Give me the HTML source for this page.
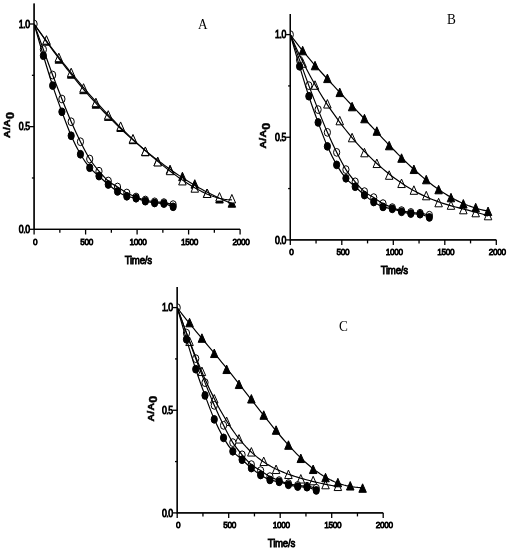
<!DOCTYPE html>
<html><head><meta charset="utf-8"><title>Figure</title>
<style>
html,body{margin:0;padding:0;background:#fff;}
svg{display:block;font-family:"Liberation Sans",sans-serif;}
</style></head><body>
<svg width="510" height="550" viewBox="0 0 510 550">
<rect width="510" height="550" fill="#fff"/>
<path d="M34.10,3.50 V229.30 H240.10" fill="none" stroke="#000" stroke-width="1.2"/>
<path d="M34.10,229.30 v5.20" stroke="#000" stroke-width="1.3"/>
<text transform="translate(35.10,244.60) scale(0.850,1)" text-anchor="middle" font-size="9.70" font-weight="normal" letter-spacing="-0.40" stroke="#000" stroke-width="0.85">0</text>
<path d="M59.85,229.30 v3.50" stroke="#000" stroke-width="1.3"/>
<path d="M85.60,229.30 v5.20" stroke="#000" stroke-width="1.3"/>
<text transform="translate(86.60,244.60) scale(0.850,1)" text-anchor="middle" font-size="9.70" font-weight="normal" letter-spacing="-0.40" stroke="#000" stroke-width="0.85">500</text>
<path d="M111.35,229.30 v3.50" stroke="#000" stroke-width="1.3"/>
<path d="M137.10,229.30 v5.20" stroke="#000" stroke-width="1.3"/>
<text transform="translate(138.10,244.60) scale(0.850,1)" text-anchor="middle" font-size="9.70" font-weight="normal" letter-spacing="-0.40" stroke="#000" stroke-width="0.85">1000</text>
<path d="M162.85,229.30 v3.50" stroke="#000" stroke-width="1.3"/>
<path d="M188.60,229.30 v5.20" stroke="#000" stroke-width="1.3"/>
<text transform="translate(189.60,244.60) scale(0.850,1)" text-anchor="middle" font-size="9.70" font-weight="normal" letter-spacing="-0.40" stroke="#000" stroke-width="0.85">1500</text>
<path d="M214.35,229.30 v3.50" stroke="#000" stroke-width="1.3"/>
<path d="M240.10,229.30 v5.20" stroke="#000" stroke-width="1.3"/>
<text transform="translate(241.10,244.60) scale(0.850,1)" text-anchor="middle" font-size="9.70" font-weight="normal" letter-spacing="-0.40" stroke="#000" stroke-width="0.85">2000</text>
<path d="M34.10,229.30 h-4.20" stroke="#000" stroke-width="1.3"/>
<text transform="translate(29.60,232.90) scale(0.870,1)" text-anchor="end" font-size="10.00" font-weight="normal" letter-spacing="-0.50" stroke="#000" stroke-width="0.85">0.0</text>
<path d="M34.10,177.98 h-2.20" stroke="#000" stroke-width="1.3"/>
<path d="M34.10,126.65 h-4.20" stroke="#000" stroke-width="1.3"/>
<text transform="translate(29.60,130.25) scale(0.870,1)" text-anchor="end" font-size="10.00" font-weight="normal" letter-spacing="-0.50" stroke="#000" stroke-width="0.85">0.5</text>
<path d="M34.10,75.32 h-2.20" stroke="#000" stroke-width="1.3"/>
<path d="M34.10,24.00 h-4.20" stroke="#000" stroke-width="1.3"/>
<text transform="translate(29.60,27.60) scale(0.870,1)" text-anchor="end" font-size="10.00" font-weight="normal" letter-spacing="-0.50" stroke="#000" stroke-width="0.85">1.0</text>
<text transform="translate(138.20,263.75) scale(0.850,1)" text-anchor="middle" font-size="11.40" font-weight="normal" letter-spacing="-0.30" stroke="#000" stroke-width="0.85">Time/s</text>
<text transform="translate(10.30,138.00) rotate(-90) scale(1,0.84)" font-size="10.5" font-weight="bold" letter-spacing="0.3" stroke="#000" stroke-width="0.55">A/A<tspan dy="4.2" font-size="12.5">0</tspan></text>
<clipPath id="clipA"><rect x="34.10" y="-1.50" width="230" height="230.80"/></clipPath>
<g clip-path="url(#clipA)">
<path d="M46.46,36.70 L50.21,45.20 L42.71,45.20 Z" fill="#000" stroke="#000" stroke-width="1"/>
<path d="M58.82,54.70 L62.57,63.20 L55.07,63.20 Z" fill="#000" stroke="#000" stroke-width="1"/>
<path d="M71.18,69.70 L74.93,78.20 L67.43,78.20 Z" fill="#000" stroke="#000" stroke-width="1"/>
<path d="M83.54,85.20 L87.29,93.70 L79.79,93.70 Z" fill="#000" stroke="#000" stroke-width="1"/>
<path d="M95.90,99.70 L99.65,108.20 L92.15,108.20 Z" fill="#000" stroke="#000" stroke-width="1"/>
<path d="M108.26,111.90 L112.01,120.40 L104.51,120.40 Z" fill="#000" stroke="#000" stroke-width="1"/>
<path d="M120.62,123.00 L124.37,131.50 L116.87,131.50 Z" fill="#000" stroke="#000" stroke-width="1"/>
<path d="M132.98,135.20 L136.73,143.70 L129.23,143.70 Z" fill="#000" stroke="#000" stroke-width="1"/>
<path d="M145.34,147.30 L149.09,155.80 L141.59,155.80 Z" fill="#000" stroke="#000" stroke-width="1"/>
<path d="M157.70,157.20 L161.45,165.70 L153.95,165.70 Z" fill="#000" stroke="#000" stroke-width="1"/>
<path d="M170.06,165.20 L173.81,173.70 L166.31,173.70 Z" fill="#000" stroke="#000" stroke-width="1"/>
<path d="M182.42,172.20 L186.17,180.70 L178.67,180.70 Z" fill="#000" stroke="#000" stroke-width="1"/>
<path d="M194.78,179.70 L198.53,188.20 L191.03,188.20 Z" fill="#000" stroke="#000" stroke-width="1"/>
<path d="M207.14,189.00 L210.89,197.50 L203.39,197.50 Z" fill="#000" stroke="#000" stroke-width="1"/>
<path d="M219.50,194.50 L223.25,203.00 L215.75,203.00 Z" fill="#000" stroke="#000" stroke-width="1"/>
<path d="M231.86,198.70 L235.61,207.20 L228.11,207.20 Z" fill="#000" stroke="#000" stroke-width="1"/>
<path d="M46.46,35.70 L50.21,44.20 L42.71,44.20 Z" fill="#fff" stroke="#000" stroke-width="1"/>
<path d="M58.82,53.20 L62.57,61.70 L55.07,61.70 Z" fill="#fff" stroke="#000" stroke-width="1"/>
<path d="M71.18,68.20 L74.93,76.70 L67.43,76.70 Z" fill="#fff" stroke="#000" stroke-width="1"/>
<path d="M83.54,83.70 L87.29,92.20 L79.79,92.20 Z" fill="#fff" stroke="#000" stroke-width="1"/>
<path d="M95.90,98.20 L99.65,106.70 L92.15,106.70 Z" fill="#fff" stroke="#000" stroke-width="1"/>
<path d="M108.26,110.70 L112.01,119.20 L104.51,119.20 Z" fill="#fff" stroke="#000" stroke-width="1"/>
<path d="M120.62,121.95 L124.37,130.45 L116.87,130.45 Z" fill="#fff" stroke="#000" stroke-width="1"/>
<path d="M132.98,134.45 L136.73,142.95 L129.23,142.95 Z" fill="#fff" stroke="#000" stroke-width="1"/>
<path d="M145.34,146.95 L149.09,155.45 L141.59,155.45 Z" fill="#fff" stroke="#000" stroke-width="1"/>
<path d="M157.70,157.45 L161.45,165.95 L153.95,165.95 Z" fill="#fff" stroke="#000" stroke-width="1"/>
<path d="M170.06,166.20 L173.81,174.70 L166.31,174.70 Z" fill="#fff" stroke="#000" stroke-width="1"/>
<path d="M182.42,176.45 L186.17,184.95 L178.67,184.95 Z" fill="#fff" stroke="#000" stroke-width="1"/>
<path d="M194.78,183.70 L198.53,192.20 L191.03,192.20 Z" fill="#fff" stroke="#000" stroke-width="1"/>
<path d="M207.14,189.00 L210.89,197.50 L203.39,197.50 Z" fill="#fff" stroke="#000" stroke-width="1"/>
<path d="M219.50,192.60 L223.25,201.10 L215.75,201.10 Z" fill="#fff" stroke="#000" stroke-width="1"/>
<path d="M231.86,194.45 L235.61,202.95 L228.11,202.95 Z" fill="#fff" stroke="#000" stroke-width="1"/>
<ellipse cx="34.10" cy="24.00" rx="3.1" ry="3.9" fill="#fff" stroke="#000" stroke-width="1"/>
<ellipse cx="43.37" cy="49.50" rx="3.1" ry="3.9" fill="#fff" stroke="#000" stroke-width="1"/>
<ellipse cx="52.64" cy="75.00" rx="3.1" ry="3.9" fill="#fff" stroke="#000" stroke-width="1"/>
<ellipse cx="61.91" cy="99.00" rx="3.1" ry="3.9" fill="#fff" stroke="#000" stroke-width="1"/>
<ellipse cx="71.18" cy="121.75" rx="3.1" ry="3.9" fill="#fff" stroke="#000" stroke-width="1"/>
<ellipse cx="80.45" cy="141.75" rx="3.1" ry="3.9" fill="#fff" stroke="#000" stroke-width="1"/>
<ellipse cx="89.72" cy="159.00" rx="3.1" ry="3.9" fill="#fff" stroke="#000" stroke-width="1"/>
<ellipse cx="98.99" cy="171.20" rx="3.1" ry="3.9" fill="#fff" stroke="#000" stroke-width="1"/>
<ellipse cx="108.26" cy="181.00" rx="3.1" ry="3.9" fill="#fff" stroke="#000" stroke-width="1"/>
<ellipse cx="117.53" cy="187.00" rx="3.1" ry="3.9" fill="#fff" stroke="#000" stroke-width="1"/>
<ellipse cx="126.80" cy="193.00" rx="3.1" ry="3.9" fill="#fff" stroke="#000" stroke-width="1"/>
<ellipse cx="136.07" cy="197.00" rx="3.1" ry="3.9" fill="#fff" stroke="#000" stroke-width="1"/>
<ellipse cx="145.34" cy="200.00" rx="3.1" ry="3.9" fill="#fff" stroke="#000" stroke-width="1"/>
<ellipse cx="154.61" cy="201.80" rx="3.1" ry="3.9" fill="#fff" stroke="#000" stroke-width="1"/>
<ellipse cx="163.88" cy="202.60" rx="3.1" ry="3.9" fill="#fff" stroke="#000" stroke-width="1"/>
<ellipse cx="173.15" cy="204.60" rx="3.1" ry="3.9" fill="#fff" stroke="#000" stroke-width="1"/>
<ellipse cx="43.37" cy="55.70" rx="3.1" ry="3.9" fill="#000" stroke="#000" stroke-width="1"/>
<ellipse cx="52.64" cy="85.60" rx="3.1" ry="3.9" fill="#000" stroke="#000" stroke-width="1"/>
<ellipse cx="61.91" cy="111.80" rx="3.1" ry="3.9" fill="#000" stroke="#000" stroke-width="1"/>
<ellipse cx="71.18" cy="135.75" rx="3.1" ry="3.9" fill="#000" stroke="#000" stroke-width="1"/>
<ellipse cx="80.45" cy="154.25" rx="3.1" ry="3.9" fill="#000" stroke="#000" stroke-width="1"/>
<ellipse cx="89.72" cy="167.70" rx="3.1" ry="3.9" fill="#000" stroke="#000" stroke-width="1"/>
<ellipse cx="98.99" cy="176.10" rx="3.1" ry="3.9" fill="#000" stroke="#000" stroke-width="1"/>
<ellipse cx="108.26" cy="184.50" rx="3.1" ry="3.9" fill="#000" stroke="#000" stroke-width="1"/>
<ellipse cx="117.53" cy="191.40" rx="3.1" ry="3.9" fill="#000" stroke="#000" stroke-width="1"/>
<ellipse cx="126.80" cy="196.30" rx="3.1" ry="3.9" fill="#000" stroke="#000" stroke-width="1"/>
<ellipse cx="136.07" cy="198.25" rx="3.1" ry="3.9" fill="#000" stroke="#000" stroke-width="1"/>
<ellipse cx="145.34" cy="201.20" rx="3.1" ry="3.9" fill="#000" stroke="#000" stroke-width="1"/>
<ellipse cx="154.61" cy="203.00" rx="3.1" ry="3.9" fill="#000" stroke="#000" stroke-width="1"/>
<ellipse cx="163.88" cy="203.60" rx="3.1" ry="3.9" fill="#000" stroke="#000" stroke-width="1"/>
<ellipse cx="173.15" cy="206.80" rx="3.1" ry="3.9" fill="#000" stroke="#000" stroke-width="1"/>
<path d="M34.10,24.00 L36.60,27.62 L39.11,31.21 L41.61,34.78 L44.11,38.31 L46.62,41.81 L49.12,45.28 L51.62,48.72 L54.13,52.12 L56.63,55.48 L59.13,58.81 L61.64,62.11 L64.14,65.36 L66.64,68.58 L69.15,71.76 L71.65,74.90 L74.15,78.01 L76.66,81.07 L79.16,84.10 L81.66,87.09 L84.17,90.03 L86.67,92.94 L89.17,95.81 L91.68,98.65 L94.18,101.44 L96.68,104.19 L99.19,106.91 L101.69,109.59 L104.19,112.23 L106.70,114.83 L109.20,117.39 L111.70,119.92 L114.21,122.41 L116.71,124.87 L119.21,127.28 L121.72,129.67 L124.22,132.02 L126.72,134.33 L129.23,136.61 L131.73,138.86 L134.23,141.07 L136.73,143.25 L139.24,145.40 L141.74,147.51 L144.24,149.59 L146.75,151.65 L149.25,153.67 L151.75,155.66 L154.26,157.62 L156.76,159.55 L159.26,161.45 L161.77,163.32 L164.27,165.16 L166.77,166.98 L169.28,168.76 L171.78,170.52 L174.28,172.25 L176.79,173.94 L179.29,175.61 L181.79,177.26 L184.30,178.87 L186.80,180.45 L189.30,182.01 L191.81,183.53 L194.31,185.03 L196.81,186.49 L199.32,187.92 L201.82,189.32 L204.32,190.69 L206.83,192.03 L209.33,193.34 L211.83,194.60 L214.34,195.84 L216.84,197.04 L219.34,198.20 L221.85,199.32 L224.35,200.40 L226.85,201.44 L229.36,202.44 L231.86,203.39" fill="none" stroke="#000" stroke-width="1.15" stroke-linejoin="round"/>
<path d="M34.10,24.00 L36.60,27.47 L39.11,30.92 L41.61,34.35 L44.11,37.75 L46.62,41.13 L49.12,44.49 L51.62,47.81 L54.13,51.11 L56.63,54.38 L59.13,57.62 L61.64,60.83 L64.14,64.01 L66.64,67.16 L69.15,70.27 L71.65,73.36 L74.15,76.41 L76.66,79.43 L79.16,82.42 L81.66,85.38 L84.17,88.30 L86.67,91.20 L89.17,94.06 L91.68,96.89 L94.18,99.69 L96.68,102.46 L99.19,105.20 L101.69,107.90 L104.19,110.58 L106.70,113.23 L109.20,115.86 L111.70,118.45 L114.21,121.01 L116.71,123.55 L119.21,126.06 L121.72,128.54 L124.22,131.00 L126.72,133.43 L129.23,135.83 L131.73,138.21 L134.23,140.56 L136.73,142.88 L139.24,145.18 L141.74,147.45 L144.24,149.70 L146.75,151.91 L149.25,154.10 L151.75,156.26 L154.26,158.40 L156.76,160.50 L159.26,162.57 L161.77,164.61 L164.27,166.62 L166.77,168.60 L169.28,170.54 L171.78,172.44 L174.28,174.30 L176.79,176.13 L179.29,177.91 L181.79,179.65 L184.30,181.33 L186.80,182.98 L189.30,184.56 L191.81,186.10 L194.31,187.57 L196.81,188.98 L199.32,190.33 L201.82,191.61 L204.32,192.81 L206.83,193.94 L209.33,194.98 L211.83,195.94 L214.34,196.81 L216.84,197.58 L219.34,198.24 L221.85,198.80 L224.35,199.25 L226.85,199.57 L229.36,199.77 L231.86,199.83" fill="none" stroke="#000" stroke-width="1.15" stroke-linejoin="round"/>
<path d="M34.10,24.00 C35.65,28.25 40.28,41.00 43.37,49.50 C46.46,58.00 49.55,66.75 52.64,75.00 C55.73,83.25 58.82,91.21 61.91,99.00 C65.00,106.79 68.09,114.62 71.18,121.75 C74.27,128.88 77.36,135.54 80.45,141.75 C83.54,147.96 86.63,154.09 89.72,159.00 C92.81,163.91 95.90,167.53 98.99,171.20 C102.08,174.87 105.17,178.37 108.26,181.00 C111.35,183.63 114.44,185.00 117.53,187.00 C120.62,189.00 123.71,191.33 126.80,193.00 C129.89,194.67 132.98,195.83 136.07,197.00 C139.16,198.17 142.25,199.20 145.34,200.00 C148.43,200.80 151.52,201.37 154.61,201.80 C157.70,202.23 160.79,202.13 163.88,202.60 C166.97,203.07 171.60,204.27 173.15,204.60" fill="none" stroke="#000" stroke-width="1.20"/>
<path d="M34.10,24.00 C35.65,29.28 40.28,45.43 43.37,55.70 C46.46,65.97 49.55,76.25 52.64,85.60 C55.73,94.95 58.82,103.44 61.91,111.80 C65.00,120.16 68.09,128.68 71.18,135.75 C74.27,142.82 77.36,148.93 80.45,154.25 C83.54,159.57 86.63,164.06 89.72,167.70 C92.81,171.34 95.90,173.30 98.99,176.10 C102.08,178.90 105.17,181.95 108.26,184.50 C111.35,187.05 114.44,189.43 117.53,191.40 C120.62,193.37 123.71,195.16 126.80,196.30 C129.89,197.44 132.98,197.43 136.07,198.25 C139.16,199.07 142.25,200.41 145.34,201.20 C148.43,201.99 151.52,202.60 154.61,203.00 C157.70,203.40 160.79,202.97 163.88,203.60 C166.97,204.23 171.60,206.27 173.15,206.80" fill="none" stroke="#000" stroke-width="1.20"/>
</g>
<path d="M34.10,3.50 V229.30 H240.10" fill="none" stroke="#000" stroke-width="1.2"/>
<text transform="translate(202.70,28.75) scale(0.95,1)" font-family="'Liberation Serif',serif" font-size="14" text-anchor="middle">A</text>
<path d="M290.30,14.00 V239.90 H496.30" fill="none" stroke="#000" stroke-width="1.2"/>
<path d="M290.30,239.90 v5.20" stroke="#000" stroke-width="1.3"/>
<text transform="translate(291.30,255.20) scale(0.850,1)" text-anchor="middle" font-size="9.70" font-weight="normal" letter-spacing="-0.40" stroke="#000" stroke-width="0.85">0</text>
<path d="M316.05,239.90 v3.50" stroke="#000" stroke-width="1.3"/>
<path d="M341.80,239.90 v5.20" stroke="#000" stroke-width="1.3"/>
<text transform="translate(342.80,255.20) scale(0.850,1)" text-anchor="middle" font-size="9.70" font-weight="normal" letter-spacing="-0.40" stroke="#000" stroke-width="0.85">500</text>
<path d="M367.55,239.90 v3.50" stroke="#000" stroke-width="1.3"/>
<path d="M393.30,239.90 v5.20" stroke="#000" stroke-width="1.3"/>
<text transform="translate(394.30,255.20) scale(0.850,1)" text-anchor="middle" font-size="9.70" font-weight="normal" letter-spacing="-0.40" stroke="#000" stroke-width="0.85">1000</text>
<path d="M419.05,239.90 v3.50" stroke="#000" stroke-width="1.3"/>
<path d="M444.80,239.90 v5.20" stroke="#000" stroke-width="1.3"/>
<text transform="translate(445.80,255.20) scale(0.850,1)" text-anchor="middle" font-size="9.70" font-weight="normal" letter-spacing="-0.40" stroke="#000" stroke-width="0.85">1500</text>
<path d="M470.55,239.90 v3.50" stroke="#000" stroke-width="1.3"/>
<path d="M496.30,239.90 v5.20" stroke="#000" stroke-width="1.3"/>
<text transform="translate(497.30,255.20) scale(0.850,1)" text-anchor="middle" font-size="9.70" font-weight="normal" letter-spacing="-0.40" stroke="#000" stroke-width="0.85">2000</text>
<path d="M290.30,239.90 h-4.20" stroke="#000" stroke-width="1.3"/>
<text transform="translate(285.80,243.50) scale(0.870,1)" text-anchor="end" font-size="10.00" font-weight="normal" letter-spacing="-0.50" stroke="#000" stroke-width="0.85">0.0</text>
<path d="M290.30,188.57 h-2.20" stroke="#000" stroke-width="1.3"/>
<path d="M290.30,137.25 h-4.20" stroke="#000" stroke-width="1.3"/>
<text transform="translate(285.80,140.85) scale(0.870,1)" text-anchor="end" font-size="10.00" font-weight="normal" letter-spacing="-0.50" stroke="#000" stroke-width="0.85">0.5</text>
<path d="M290.30,85.92 h-2.20" stroke="#000" stroke-width="1.3"/>
<path d="M290.30,34.60 h-4.20" stroke="#000" stroke-width="1.3"/>
<text transform="translate(285.80,38.20) scale(0.870,1)" text-anchor="end" font-size="10.00" font-weight="normal" letter-spacing="-0.50" stroke="#000" stroke-width="0.85">1.0</text>
<text transform="translate(394.20,274.25) scale(0.850,1)" text-anchor="middle" font-size="11.40" font-weight="normal" letter-spacing="-0.30" stroke="#000" stroke-width="0.85">Time/s</text>
<text transform="translate(266.30,148.60) rotate(-90) scale(1,0.84)" font-size="10.5" font-weight="bold" letter-spacing="0.3" stroke="#000" stroke-width="0.55">A/A<tspan dy="4.2" font-size="12.5">0</tspan></text>
<clipPath id="clipB"><rect x="290.30" y="9.00" width="230" height="230.90"/></clipPath>
<g clip-path="url(#clipB)">
<path d="M302.66,58.80 L306.41,67.30 L298.91,67.30 Z" fill="#fff" stroke="#000" stroke-width="1"/>
<path d="M315.02,80.80 L318.77,89.30 L311.27,89.30 Z" fill="#fff" stroke="#000" stroke-width="1"/>
<path d="M327.38,99.55 L331.13,108.05 L323.63,108.05 Z" fill="#fff" stroke="#000" stroke-width="1"/>
<path d="M339.74,116.30 L343.49,124.80 L335.99,124.80 Z" fill="#fff" stroke="#000" stroke-width="1"/>
<path d="M352.10,133.30 L355.85,141.80 L348.35,141.80 Z" fill="#fff" stroke="#000" stroke-width="1"/>
<path d="M364.46,148.30 L368.21,156.80 L360.71,156.80 Z" fill="#fff" stroke="#000" stroke-width="1"/>
<path d="M376.82,159.05 L380.57,167.55 L373.07,167.55 Z" fill="#fff" stroke="#000" stroke-width="1"/>
<path d="M389.18,170.80 L392.93,179.30 L385.43,179.30 Z" fill="#fff" stroke="#000" stroke-width="1"/>
<path d="M401.54,179.05 L405.29,187.55 L397.79,187.55 Z" fill="#fff" stroke="#000" stroke-width="1"/>
<path d="M413.90,185.80 L417.65,194.30 L410.15,194.30 Z" fill="#fff" stroke="#000" stroke-width="1"/>
<path d="M426.26,191.30 L430.01,199.80 L422.51,199.80 Z" fill="#fff" stroke="#000" stroke-width="1"/>
<path d="M438.62,198.30 L442.37,206.80 L434.87,206.80 Z" fill="#fff" stroke="#000" stroke-width="1"/>
<path d="M450.98,200.80 L454.73,209.30 L447.23,209.30 Z" fill="#fff" stroke="#000" stroke-width="1"/>
<path d="M463.34,205.30 L467.09,213.80 L459.59,213.80 Z" fill="#fff" stroke="#000" stroke-width="1"/>
<path d="M475.70,208.30 L479.45,216.80 L471.95,216.80 Z" fill="#fff" stroke="#000" stroke-width="1"/>
<path d="M488.06,211.30 L491.81,219.80 L484.31,219.80 Z" fill="#fff" stroke="#000" stroke-width="1"/>
<path d="M302.66,46.30 L306.41,54.80 L298.91,54.80 Z" fill="#000" stroke="#000" stroke-width="1"/>
<path d="M315.02,61.30 L318.77,69.80 L311.27,69.80 Z" fill="#000" stroke="#000" stroke-width="1"/>
<path d="M327.38,74.10 L331.13,82.60 L323.63,82.60 Z" fill="#000" stroke="#000" stroke-width="1"/>
<path d="M339.74,88.10 L343.49,96.60 L335.99,96.60 Z" fill="#000" stroke="#000" stroke-width="1"/>
<path d="M352.10,102.30 L355.85,110.80 L348.35,110.80 Z" fill="#000" stroke="#000" stroke-width="1"/>
<path d="M364.46,114.30 L368.21,122.80 L360.71,122.80 Z" fill="#000" stroke="#000" stroke-width="1"/>
<path d="M376.82,126.80 L380.57,135.30 L373.07,135.30 Z" fill="#000" stroke="#000" stroke-width="1"/>
<path d="M389.18,141.30 L392.93,149.80 L385.43,149.80 Z" fill="#000" stroke="#000" stroke-width="1"/>
<path d="M401.54,153.80 L405.29,162.30 L397.79,162.30 Z" fill="#000" stroke="#000" stroke-width="1"/>
<path d="M413.90,165.05 L417.65,173.55 L410.15,173.55 Z" fill="#000" stroke="#000" stroke-width="1"/>
<path d="M426.26,175.30 L430.01,183.80 L422.51,183.80 Z" fill="#000" stroke="#000" stroke-width="1"/>
<path d="M438.62,185.30 L442.37,193.80 L434.87,193.80 Z" fill="#000" stroke="#000" stroke-width="1"/>
<path d="M450.98,193.30 L454.73,201.80 L447.23,201.80 Z" fill="#000" stroke="#000" stroke-width="1"/>
<path d="M463.34,199.55 L467.09,208.05 L459.59,208.05 Z" fill="#000" stroke="#000" stroke-width="1"/>
<path d="M475.70,203.30 L479.45,211.80 L471.95,211.80 Z" fill="#000" stroke="#000" stroke-width="1"/>
<path d="M488.06,207.05 L491.81,215.55 L484.31,215.55 Z" fill="#000" stroke="#000" stroke-width="1"/>
<ellipse cx="290.30" cy="34.60" rx="3.1" ry="3.9" fill="#fff" stroke="#000" stroke-width="1"/>
<ellipse cx="299.57" cy="60.10" rx="3.1" ry="3.9" fill="#fff" stroke="#000" stroke-width="1"/>
<ellipse cx="308.84" cy="85.60" rx="3.1" ry="3.9" fill="#fff" stroke="#000" stroke-width="1"/>
<ellipse cx="318.11" cy="109.60" rx="3.1" ry="3.9" fill="#fff" stroke="#000" stroke-width="1"/>
<ellipse cx="327.38" cy="132.35" rx="3.1" ry="3.9" fill="#fff" stroke="#000" stroke-width="1"/>
<ellipse cx="336.65" cy="152.35" rx="3.1" ry="3.9" fill="#fff" stroke="#000" stroke-width="1"/>
<ellipse cx="345.92" cy="169.60" rx="3.1" ry="3.9" fill="#fff" stroke="#000" stroke-width="1"/>
<ellipse cx="355.19" cy="181.80" rx="3.1" ry="3.9" fill="#fff" stroke="#000" stroke-width="1"/>
<ellipse cx="364.46" cy="191.60" rx="3.1" ry="3.9" fill="#fff" stroke="#000" stroke-width="1"/>
<ellipse cx="373.73" cy="197.60" rx="3.1" ry="3.9" fill="#fff" stroke="#000" stroke-width="1"/>
<ellipse cx="383.00" cy="203.60" rx="3.1" ry="3.9" fill="#fff" stroke="#000" stroke-width="1"/>
<ellipse cx="392.27" cy="207.60" rx="3.1" ry="3.9" fill="#fff" stroke="#000" stroke-width="1"/>
<ellipse cx="401.54" cy="210.60" rx="3.1" ry="3.9" fill="#fff" stroke="#000" stroke-width="1"/>
<ellipse cx="410.81" cy="212.40" rx="3.1" ry="3.9" fill="#fff" stroke="#000" stroke-width="1"/>
<ellipse cx="420.08" cy="213.20" rx="3.1" ry="3.9" fill="#fff" stroke="#000" stroke-width="1"/>
<ellipse cx="429.35" cy="215.20" rx="3.1" ry="3.9" fill="#fff" stroke="#000" stroke-width="1"/>
<ellipse cx="299.57" cy="66.30" rx="3.1" ry="3.9" fill="#000" stroke="#000" stroke-width="1"/>
<ellipse cx="308.84" cy="96.20" rx="3.1" ry="3.9" fill="#000" stroke="#000" stroke-width="1"/>
<ellipse cx="318.11" cy="122.40" rx="3.1" ry="3.9" fill="#000" stroke="#000" stroke-width="1"/>
<ellipse cx="327.38" cy="146.35" rx="3.1" ry="3.9" fill="#000" stroke="#000" stroke-width="1"/>
<ellipse cx="336.65" cy="164.85" rx="3.1" ry="3.9" fill="#000" stroke="#000" stroke-width="1"/>
<ellipse cx="345.92" cy="178.30" rx="3.1" ry="3.9" fill="#000" stroke="#000" stroke-width="1"/>
<ellipse cx="355.19" cy="186.70" rx="3.1" ry="3.9" fill="#000" stroke="#000" stroke-width="1"/>
<ellipse cx="364.46" cy="195.10" rx="3.1" ry="3.9" fill="#000" stroke="#000" stroke-width="1"/>
<ellipse cx="373.73" cy="202.00" rx="3.1" ry="3.9" fill="#000" stroke="#000" stroke-width="1"/>
<ellipse cx="383.00" cy="206.90" rx="3.1" ry="3.9" fill="#000" stroke="#000" stroke-width="1"/>
<ellipse cx="392.27" cy="208.85" rx="3.1" ry="3.9" fill="#000" stroke="#000" stroke-width="1"/>
<ellipse cx="401.54" cy="211.80" rx="3.1" ry="3.9" fill="#000" stroke="#000" stroke-width="1"/>
<ellipse cx="410.81" cy="213.60" rx="3.1" ry="3.9" fill="#000" stroke="#000" stroke-width="1"/>
<ellipse cx="420.08" cy="214.20" rx="3.1" ry="3.9" fill="#000" stroke="#000" stroke-width="1"/>
<ellipse cx="429.35" cy="217.40" rx="3.1" ry="3.9" fill="#000" stroke="#000" stroke-width="1"/>
<path d="M290.30,34.60 L292.80,40.41 L295.31,46.03 L297.81,51.47 L300.31,56.74 L302.82,61.84 L305.32,66.79 L307.82,71.58 L310.33,76.24 L312.83,80.76 L315.33,85.15 L317.84,89.41 L320.34,93.56 L322.84,97.59 L325.35,101.52 L327.85,105.34 L330.35,109.06 L332.86,112.69 L335.36,116.22 L337.86,119.67 L340.37,123.03 L342.87,126.30 L345.37,129.50 L347.88,132.62 L350.38,135.66 L352.88,138.62 L355.39,141.52 L357.89,144.34 L360.39,147.09 L362.90,149.78 L365.40,152.39 L367.90,154.94 L370.41,157.43 L372.91,159.85 L375.41,162.21 L377.92,164.50 L380.42,166.73 L382.92,168.90 L385.43,171.01 L387.93,173.05 L390.43,175.03 L392.93,176.95 L395.44,178.81 L397.94,180.61 L400.44,182.35 L402.95,184.03 L405.45,185.64 L407.95,187.20 L410.46,188.70 L412.96,190.15 L415.46,191.53 L417.97,192.86 L420.47,194.13 L422.97,195.35 L425.48,196.52 L427.98,197.63 L430.48,198.69 L432.99,199.71 L435.49,200.67 L437.99,201.59 L440.50,202.47 L443.00,203.31 L445.50,204.11 L448.01,204.88 L450.51,205.61 L453.01,206.32 L455.52,207.00 L458.02,207.66 L460.52,208.31 L463.03,208.94 L465.53,209.57 L468.03,210.20 L470.54,210.83 L473.04,211.48 L475.54,212.14 L478.05,212.83 L480.55,213.54 L483.05,214.30 L485.56,215.10 L488.06,215.96" fill="none" stroke="#000" stroke-width="1.20" stroke-linejoin="round"/>
<path d="M290.30,34.60 L292.80,38.04 L295.31,41.38 L297.81,44.63 L300.31,47.81 L302.82,50.92 L305.32,53.96 L307.82,56.95 L310.33,59.89 L312.83,62.78 L315.33,65.64 L317.84,68.46 L320.34,71.25 L322.84,74.02 L325.35,76.77 L327.85,79.51 L330.35,82.23 L332.86,84.94 L335.36,87.64 L337.86,90.34 L340.37,93.03 L342.87,95.72 L345.37,98.40 L347.88,101.09 L350.38,103.78 L352.88,106.47 L355.39,109.15 L357.89,111.84 L360.39,114.53 L362.90,117.22 L365.40,119.91 L367.90,122.59 L370.41,125.27 L372.91,127.95 L375.41,130.62 L377.92,133.28 L380.42,135.93 L382.92,138.57 L385.43,141.20 L387.93,143.81 L390.43,146.40 L392.93,148.98 L395.44,151.53 L397.94,154.05 L400.44,156.55 L402.95,159.02 L405.45,161.46 L407.95,163.86 L410.46,166.22 L412.96,168.54 L415.46,170.83 L417.97,173.06 L420.47,175.25 L422.97,177.39 L425.48,179.48 L427.98,181.51 L430.48,183.49 L432.99,185.41 L435.49,187.27 L437.99,189.07 L440.50,190.81 L443.00,192.48 L445.50,194.09 L448.01,195.63 L450.51,197.10 L453.01,198.50 L455.52,199.84 L458.02,201.10 L460.52,202.30 L463.03,203.43 L465.53,204.49 L468.03,205.48 L470.54,206.40 L473.04,207.26 L475.54,208.06 L478.05,208.80 L480.55,209.47 L483.05,210.09 L485.56,210.66 L488.06,211.17" fill="none" stroke="#000" stroke-width="1.20" stroke-linejoin="round"/>
<path d="M290.30,34.60 C291.85,38.85 296.48,51.60 299.57,60.10 C302.66,68.60 305.75,77.35 308.84,85.60 C311.93,93.85 315.02,101.81 318.11,109.60 C321.20,117.39 324.29,125.22 327.38,132.35 C330.47,139.47 333.56,146.14 336.65,152.35 C339.74,158.56 342.83,164.69 345.92,169.60 C349.01,174.51 352.10,178.13 355.19,181.80 C358.28,185.47 361.37,188.97 364.46,191.60 C367.55,194.23 370.64,195.60 373.73,197.60 C376.82,199.60 379.91,201.93 383.00,203.60 C386.09,205.27 389.18,206.43 392.27,207.60 C395.36,208.77 398.45,209.80 401.54,210.60 C404.63,211.40 407.72,211.97 410.81,212.40 C413.90,212.83 416.99,212.73 420.08,213.20 C423.17,213.67 427.81,214.87 429.35,215.20" fill="none" stroke="#000" stroke-width="1.20"/>
<path d="M290.30,34.60 C291.85,39.88 296.48,56.03 299.57,66.30 C302.66,76.57 305.75,86.85 308.84,96.20 C311.93,105.55 315.02,114.04 318.11,122.40 C321.20,130.76 324.29,139.28 327.38,146.35 C330.47,153.42 333.56,159.53 336.65,164.85 C339.74,170.17 342.83,174.66 345.92,178.30 C349.01,181.94 352.10,183.90 355.19,186.70 C358.28,189.50 361.37,192.55 364.46,195.10 C367.55,197.65 370.64,200.03 373.73,202.00 C376.82,203.97 379.91,205.76 383.00,206.90 C386.09,208.04 389.18,208.03 392.27,208.85 C395.36,209.67 398.45,211.01 401.54,211.80 C404.63,212.59 407.72,213.20 410.81,213.60 C413.90,214.00 416.99,213.57 420.08,214.20 C423.17,214.83 427.81,216.87 429.35,217.40" fill="none" stroke="#000" stroke-width="1.20"/>
</g>
<path d="M290.30,14.00 V239.90 H496.30" fill="none" stroke="#000" stroke-width="1.2"/>
<text transform="translate(451.50,23.50) scale(0.95,1)" font-family="'Liberation Serif',serif" font-size="14" text-anchor="middle">B</text>
<path d="M177.20,287.00 V512.90 H383.20" fill="none" stroke="#000" stroke-width="1.2"/>
<path d="M177.20,512.90 v5.20" stroke="#000" stroke-width="1.3"/>
<text transform="translate(178.20,528.20) scale(0.850,1)" text-anchor="middle" font-size="9.70" font-weight="normal" letter-spacing="-0.40" stroke="#000" stroke-width="0.85">0</text>
<path d="M202.95,512.90 v3.50" stroke="#000" stroke-width="1.3"/>
<path d="M228.70,512.90 v5.20" stroke="#000" stroke-width="1.3"/>
<text transform="translate(229.70,528.20) scale(0.850,1)" text-anchor="middle" font-size="9.70" font-weight="normal" letter-spacing="-0.40" stroke="#000" stroke-width="0.85">500</text>
<path d="M254.45,512.90 v3.50" stroke="#000" stroke-width="1.3"/>
<path d="M280.20,512.90 v5.20" stroke="#000" stroke-width="1.3"/>
<text transform="translate(281.20,528.20) scale(0.850,1)" text-anchor="middle" font-size="9.70" font-weight="normal" letter-spacing="-0.40" stroke="#000" stroke-width="0.85">1000</text>
<path d="M305.95,512.90 v3.50" stroke="#000" stroke-width="1.3"/>
<path d="M331.70,512.90 v5.20" stroke="#000" stroke-width="1.3"/>
<text transform="translate(332.70,528.20) scale(0.850,1)" text-anchor="middle" font-size="9.70" font-weight="normal" letter-spacing="-0.40" stroke="#000" stroke-width="0.85">1500</text>
<path d="M357.45,512.90 v3.50" stroke="#000" stroke-width="1.3"/>
<path d="M383.20,512.90 v5.20" stroke="#000" stroke-width="1.3"/>
<text transform="translate(384.20,528.20) scale(0.850,1)" text-anchor="middle" font-size="9.70" font-weight="normal" letter-spacing="-0.40" stroke="#000" stroke-width="0.85">2000</text>
<path d="M177.20,512.90 h-4.20" stroke="#000" stroke-width="1.3"/>
<text transform="translate(172.70,516.50) scale(0.870,1)" text-anchor="end" font-size="10.00" font-weight="normal" letter-spacing="-0.50" stroke="#000" stroke-width="0.85">0.0</text>
<path d="M177.20,461.58 h-2.20" stroke="#000" stroke-width="1.3"/>
<path d="M177.20,410.25 h-4.20" stroke="#000" stroke-width="1.3"/>
<text transform="translate(172.70,413.85) scale(0.870,1)" text-anchor="end" font-size="10.00" font-weight="normal" letter-spacing="-0.50" stroke="#000" stroke-width="0.85">0.5</text>
<path d="M177.20,358.93 h-2.20" stroke="#000" stroke-width="1.3"/>
<path d="M177.20,307.60 h-4.20" stroke="#000" stroke-width="1.3"/>
<text transform="translate(172.70,311.20) scale(0.870,1)" text-anchor="end" font-size="10.00" font-weight="normal" letter-spacing="-0.50" stroke="#000" stroke-width="0.85">1.0</text>
<text transform="translate(281.40,547.25) scale(0.850,1)" text-anchor="middle" font-size="11.40" font-weight="normal" letter-spacing="-0.30" stroke="#000" stroke-width="0.85">Time/s</text>
<text transform="translate(153.55,421.60) rotate(-90) scale(1,0.84)" font-size="10.5" font-weight="bold" letter-spacing="0.3" stroke="#000" stroke-width="0.55">A/A<tspan dy="4.2" font-size="12.5">0</tspan></text>
<clipPath id="clipC"><rect x="177.20" y="282.00" width="230" height="230.90"/></clipPath>
<g clip-path="url(#clipC)">
<path d="M189.56,337.05 L193.31,345.55 L185.81,345.55 Z" fill="#fff" stroke="#000" stroke-width="1"/>
<path d="M201.92,367.05 L205.67,375.55 L198.17,375.55 Z" fill="#fff" stroke="#000" stroke-width="1"/>
<path d="M214.28,394.55 L218.03,403.05 L210.53,403.05 Z" fill="#fff" stroke="#000" stroke-width="1"/>
<path d="M226.64,417.05 L230.39,425.55 L222.89,425.55 Z" fill="#fff" stroke="#000" stroke-width="1"/>
<path d="M239.00,434.55 L242.75,443.05 L235.25,443.05 Z" fill="#fff" stroke="#000" stroke-width="1"/>
<path d="M251.36,447.55 L255.11,456.05 L247.61,456.05 Z" fill="#fff" stroke="#000" stroke-width="1"/>
<path d="M263.72,457.05 L267.47,465.55 L259.97,465.55 Z" fill="#fff" stroke="#000" stroke-width="1"/>
<path d="M276.08,465.05 L279.83,473.55 L272.33,473.55 Z" fill="#fff" stroke="#000" stroke-width="1"/>
<path d="M288.44,470.05 L292.19,478.55 L284.69,478.55 Z" fill="#fff" stroke="#000" stroke-width="1"/>
<path d="M300.80,474.55 L304.55,483.05 L297.05,483.05 Z" fill="#fff" stroke="#000" stroke-width="1"/>
<path d="M313.16,476.30 L316.91,484.80 L309.41,484.80 Z" fill="#fff" stroke="#000" stroke-width="1"/>
<path d="M325.52,480.30 L329.27,488.80 L321.77,488.80 Z" fill="#fff" stroke="#000" stroke-width="1"/>
<path d="M337.88,482.05 L341.63,490.55 L334.13,490.55 Z" fill="#fff" stroke="#000" stroke-width="1"/>
<path d="M189.56,318.30 L193.31,326.80 L185.81,326.80 Z" fill="#000" stroke="#000" stroke-width="1"/>
<path d="M201.92,333.80 L205.67,342.30 L198.17,342.30 Z" fill="#000" stroke="#000" stroke-width="1"/>
<path d="M214.28,349.05 L218.03,357.55 L210.53,357.55 Z" fill="#000" stroke="#000" stroke-width="1"/>
<path d="M226.64,365.05 L230.39,373.55 L222.89,373.55 Z" fill="#000" stroke="#000" stroke-width="1"/>
<path d="M239.00,380.05 L242.75,388.55 L235.25,388.55 Z" fill="#000" stroke="#000" stroke-width="1"/>
<path d="M251.36,394.55 L255.11,403.05 L247.61,403.05 Z" fill="#000" stroke="#000" stroke-width="1"/>
<path d="M263.72,410.80 L267.47,419.30 L259.97,419.30 Z" fill="#000" stroke="#000" stroke-width="1"/>
<path d="M276.08,425.80 L279.83,434.30 L272.33,434.30 Z" fill="#000" stroke="#000" stroke-width="1"/>
<path d="M288.44,440.80 L292.19,449.30 L284.69,449.30 Z" fill="#000" stroke="#000" stroke-width="1"/>
<path d="M300.80,454.05 L304.55,462.55 L297.05,462.55 Z" fill="#000" stroke="#000" stroke-width="1"/>
<path d="M313.16,465.05 L316.91,473.55 L309.41,473.55 Z" fill="#000" stroke="#000" stroke-width="1"/>
<path d="M325.52,473.30 L329.27,481.80 L321.77,481.80 Z" fill="#000" stroke="#000" stroke-width="1"/>
<path d="M337.88,478.30 L341.63,486.80 L334.13,486.80 Z" fill="#000" stroke="#000" stroke-width="1"/>
<path d="M350.24,481.55 L353.99,490.05 L346.49,490.05 Z" fill="#000" stroke="#000" stroke-width="1"/>
<path d="M362.60,483.80 L366.35,492.30 L358.85,492.30 Z" fill="#000" stroke="#000" stroke-width="1"/>
<ellipse cx="177.20" cy="307.60" rx="3.1" ry="3.9" fill="#fff" stroke="#000" stroke-width="1"/>
<ellipse cx="186.47" cy="333.10" rx="3.1" ry="3.9" fill="#fff" stroke="#000" stroke-width="1"/>
<ellipse cx="195.74" cy="358.60" rx="3.1" ry="3.9" fill="#fff" stroke="#000" stroke-width="1"/>
<ellipse cx="205.01" cy="382.60" rx="3.1" ry="3.9" fill="#fff" stroke="#000" stroke-width="1"/>
<ellipse cx="214.28" cy="405.35" rx="3.1" ry="3.9" fill="#fff" stroke="#000" stroke-width="1"/>
<ellipse cx="223.55" cy="425.35" rx="3.1" ry="3.9" fill="#fff" stroke="#000" stroke-width="1"/>
<ellipse cx="232.82" cy="442.60" rx="3.1" ry="3.9" fill="#fff" stroke="#000" stroke-width="1"/>
<ellipse cx="242.09" cy="454.80" rx="3.1" ry="3.9" fill="#fff" stroke="#000" stroke-width="1"/>
<ellipse cx="251.36" cy="464.60" rx="3.1" ry="3.9" fill="#fff" stroke="#000" stroke-width="1"/>
<ellipse cx="260.63" cy="470.60" rx="3.1" ry="3.9" fill="#fff" stroke="#000" stroke-width="1"/>
<ellipse cx="269.90" cy="476.60" rx="3.1" ry="3.9" fill="#fff" stroke="#000" stroke-width="1"/>
<ellipse cx="279.17" cy="480.60" rx="3.1" ry="3.9" fill="#fff" stroke="#000" stroke-width="1"/>
<ellipse cx="288.44" cy="483.60" rx="3.1" ry="3.9" fill="#fff" stroke="#000" stroke-width="1"/>
<ellipse cx="297.71" cy="485.40" rx="3.1" ry="3.9" fill="#fff" stroke="#000" stroke-width="1"/>
<ellipse cx="306.98" cy="486.20" rx="3.1" ry="3.9" fill="#fff" stroke="#000" stroke-width="1"/>
<ellipse cx="316.25" cy="488.20" rx="3.1" ry="3.9" fill="#fff" stroke="#000" stroke-width="1"/>
<ellipse cx="186.47" cy="339.30" rx="3.1" ry="3.9" fill="#000" stroke="#000" stroke-width="1"/>
<ellipse cx="195.74" cy="369.20" rx="3.1" ry="3.9" fill="#000" stroke="#000" stroke-width="1"/>
<ellipse cx="205.01" cy="395.40" rx="3.1" ry="3.9" fill="#000" stroke="#000" stroke-width="1"/>
<ellipse cx="214.28" cy="419.35" rx="3.1" ry="3.9" fill="#000" stroke="#000" stroke-width="1"/>
<ellipse cx="223.55" cy="437.85" rx="3.1" ry="3.9" fill="#000" stroke="#000" stroke-width="1"/>
<ellipse cx="232.82" cy="451.30" rx="3.1" ry="3.9" fill="#000" stroke="#000" stroke-width="1"/>
<ellipse cx="242.09" cy="459.70" rx="3.1" ry="3.9" fill="#000" stroke="#000" stroke-width="1"/>
<ellipse cx="251.36" cy="468.10" rx="3.1" ry="3.9" fill="#000" stroke="#000" stroke-width="1"/>
<ellipse cx="260.63" cy="475.00" rx="3.1" ry="3.9" fill="#000" stroke="#000" stroke-width="1"/>
<ellipse cx="269.90" cy="479.90" rx="3.1" ry="3.9" fill="#000" stroke="#000" stroke-width="1"/>
<ellipse cx="279.17" cy="481.85" rx="3.1" ry="3.9" fill="#000" stroke="#000" stroke-width="1"/>
<ellipse cx="288.44" cy="484.80" rx="3.1" ry="3.9" fill="#000" stroke="#000" stroke-width="1"/>
<ellipse cx="297.71" cy="486.60" rx="3.1" ry="3.9" fill="#000" stroke="#000" stroke-width="1"/>
<ellipse cx="306.98" cy="487.20" rx="3.1" ry="3.9" fill="#000" stroke="#000" stroke-width="1"/>
<ellipse cx="316.25" cy="490.40" rx="3.1" ry="3.9" fill="#000" stroke="#000" stroke-width="1"/>
<path d="M177.20,307.60 L179.23,313.23 L181.27,318.83 L183.30,324.38 L185.34,329.89 L187.37,335.33 L189.40,340.71 L191.44,346.01 L193.47,351.23 L195.51,356.36 L197.54,361.39 L199.57,366.33 L201.61,371.16 L203.64,375.89 L205.67,380.50 L207.71,385.00 L209.74,389.38 L211.78,393.63 L213.81,397.77 L215.84,401.78 L217.88,405.67 L219.91,409.43 L221.95,413.06 L223.98,416.57 L226.01,419.96 L228.05,423.21 L230.08,426.35 L232.12,429.36 L234.15,432.24 L236.18,435.01 L238.22,437.66 L240.25,440.19 L242.29,442.61 L244.32,444.92 L246.35,447.12 L248.39,449.22 L250.42,451.21 L252.46,453.11 L254.49,454.91 L256.52,456.61 L258.56,458.23 L260.59,459.77 L262.62,461.22 L264.66,462.60 L266.69,463.90 L268.73,465.13 L270.76,466.30 L272.79,467.41 L274.83,468.45 L276.86,469.44 L278.90,470.38 L280.93,471.28 L282.96,472.13 L285.00,472.94 L287.03,473.71 L289.07,474.45 L291.10,475.16 L293.13,475.84 L295.17,476.49 L297.20,477.12 L299.24,477.73 L301.27,478.32 L303.30,478.90 L305.34,479.46 L307.37,480.00 L309.41,480.53 L311.44,481.05 L313.47,481.56 L315.51,482.06 L317.54,482.54 L319.57,483.01 L321.61,483.47 L323.64,483.91 L325.68,484.33 L327.71,484.74 L329.74,485.12 L331.78,485.48 L333.81,485.81 L335.85,486.10 L337.88,486.36" fill="none" stroke="#000" stroke-width="1.20" stroke-linejoin="round"/>
<path d="M177.20,307.60 L179.55,310.74 L181.89,313.80 L184.24,316.81 L186.59,319.77 L188.93,322.69 L191.28,325.58 L193.63,328.43 L195.97,331.27 L198.32,334.09 L200.67,336.90 L203.02,339.70 L205.36,342.50 L207.71,345.30 L210.06,348.11 L212.40,350.93 L214.75,353.75 L217.10,356.59 L219.44,359.44 L221.79,362.31 L224.14,365.19 L226.48,368.09 L228.83,371.01 L231.18,373.94 L233.52,376.89 L235.87,379.85 L238.22,382.82 L240.56,385.81 L242.91,388.80 L245.26,391.81 L247.61,394.82 L249.95,397.83 L252.30,400.85 L254.65,403.86 L256.99,406.87 L259.34,409.87 L261.69,412.86 L264.03,415.84 L266.38,418.80 L268.73,421.74 L271.07,424.65 L273.42,427.54 L275.77,430.40 L278.11,433.22 L280.46,436.00 L282.81,438.74 L285.15,441.43 L287.50,444.07 L289.85,446.66 L292.19,449.19 L294.54,451.66 L296.89,454.07 L299.24,456.41 L301.58,458.68 L303.93,460.87 L306.28,462.99 L308.62,465.03 L310.97,466.99 L313.32,468.87 L315.66,470.66 L318.01,472.36 L320.36,473.97 L322.70,475.49 L325.05,476.92 L327.40,478.26 L329.74,479.50 L332.09,480.65 L334.44,481.71 L336.78,482.68 L339.13,483.55 L341.48,484.33 L343.83,485.02 L346.17,485.63 L348.52,486.15 L350.87,486.59 L353.21,486.95 L355.56,487.23 L357.91,487.45 L360.25,487.60 L362.60,487.69" fill="none" stroke="#000" stroke-width="1.20" stroke-linejoin="round"/>
<path d="M177.20,307.60 C178.75,311.85 183.38,324.60 186.47,333.10 C189.56,341.60 192.65,350.35 195.74,358.60 C198.83,366.85 201.92,374.81 205.01,382.60 C208.10,390.39 211.19,398.23 214.28,405.35 C217.37,412.48 220.46,419.14 223.55,425.35 C226.64,431.56 229.73,437.69 232.82,442.60 C235.91,447.51 239.00,451.13 242.09,454.80 C245.18,458.47 248.27,461.97 251.36,464.60 C254.45,467.23 257.54,468.60 260.63,470.60 C263.72,472.60 266.81,474.93 269.90,476.60 C272.99,478.27 276.08,479.43 279.17,480.60 C282.26,481.77 285.35,482.80 288.44,483.60 C291.53,484.40 294.62,484.97 297.71,485.40 C300.80,485.83 303.89,485.73 306.98,486.20 C310.07,486.67 314.70,487.87 316.25,488.20" fill="none" stroke="#000" stroke-width="1.20"/>
<path d="M177.20,307.60 C178.75,312.88 183.38,329.03 186.47,339.30 C189.56,349.57 192.65,359.85 195.74,369.20 C198.83,378.55 201.92,387.04 205.01,395.40 C208.10,403.76 211.19,412.28 214.28,419.35 C217.37,426.43 220.46,432.53 223.55,437.85 C226.64,443.18 229.73,447.66 232.82,451.30 C235.91,454.94 239.00,456.90 242.09,459.70 C245.18,462.50 248.27,465.55 251.36,468.10 C254.45,470.65 257.54,473.03 260.63,475.00 C263.72,476.97 266.81,478.76 269.90,479.90 C272.99,481.04 276.08,481.03 279.17,481.85 C282.26,482.67 285.35,484.01 288.44,484.80 C291.53,485.59 294.62,486.20 297.71,486.60 C300.80,487.00 303.89,486.57 306.98,487.20 C310.07,487.83 314.70,489.87 316.25,490.40" fill="none" stroke="#000" stroke-width="1.20"/>
</g>
<path d="M177.20,287.00 V512.90 H383.20" fill="none" stroke="#000" stroke-width="1.2"/>
<text transform="translate(343.40,331.40) scale(0.95,1)" font-family="'Liberation Serif',serif" font-size="14" text-anchor="middle">C</text>
</svg>
</body></html>
